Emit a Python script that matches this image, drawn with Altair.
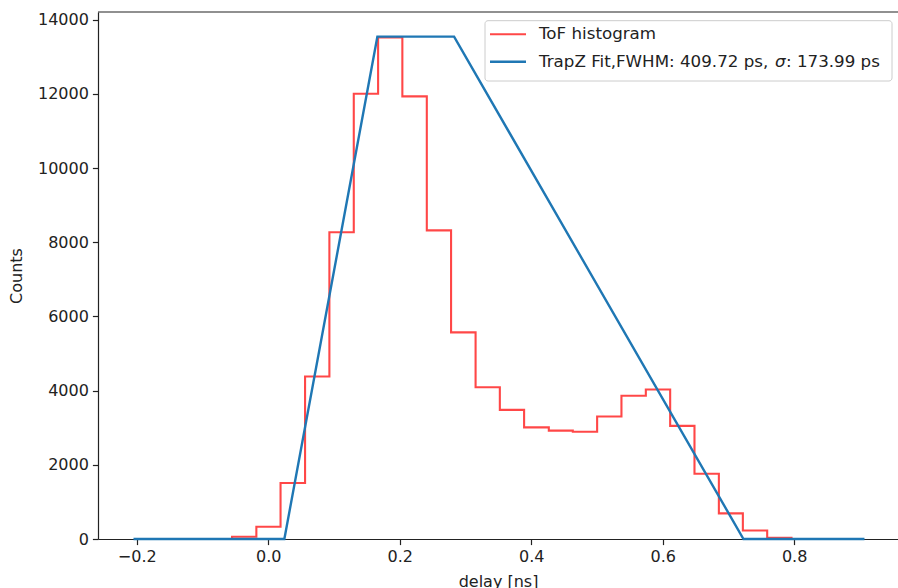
import altair as alt
import pandas as pd

# ---- data ----
bin_edges = [-0.0551, -0.0181, 0.0187, 0.0560, 0.0930, 0.1301, 0.1671, 0.2040,
             0.2412, 0.2781, 0.3154, 0.3523, 0.3892, 0.4268, 0.4633, 0.5003,
             0.5373, 0.5744, 0.6114, 0.6484, 0.6855, 0.7220, 0.7590, 0.7960]
counts = [60, 330, 1510, 4380, 8270, 12000, 13520, 11930, 8320, 5570, 4090,
          3480, 3010, 2920, 2890, 3300, 3860, 4030, 3050, 1760, 690, 230, 30]
fit_x = [-0.205, 0.0245, 0.166, 0.2827, 0.7229, 0.907]
fit_y = [0, 0, 13540, 13540, 0, 0]
x_ticks = [-0.2, 0.0, 0.2, 0.4, 0.6, 0.8]
y_ticks = [0, 2000, 4000, 6000, 8000, 10000, 12000, 14000]
legend_labels = ["ToF histogram", "TrapZ Fit,FWHM: 409.72 ps,", "σ", ": 173.99 ps"]

# ---- tables ----
step_x = [bin_edges[0]] + bin_edges[:-1] + [bin_edges[-1]]
step_y = [0] + counts + [0]
hist_df = pd.DataFrame({"x": step_x, "y": step_y, "o": range(len(step_x))})
fit_df = pd.DataFrame({"x": fit_x, "y": fit_y, "o": range(len(fit_x))})

W, H = 800, 527
FONT = "DejaVu Sans"
TXT = "#222222"
RED = "#ff0000"
BLUE = "#1f77b4"
LFS = 16.7

xs = alt.Scale(domain=[-0.259, 0.958], nice=False, zero=False)
ys = alt.Scale(domain=[0, 14205], nice=False)

x_axis = alt.Axis(values=x_ticks, format=".1f", title="delay [ns]", grid=False,
                  labelFlush=False, labelOverlap=False, tickSize=5.6, labelPadding=4,
                  titlePadding=9)
y_axis = alt.Axis(values=y_ticks, format="d", title="Counts", grid=False,
                  labelOverlap=False, tickSize=5.6, labelPadding=4, titlePadding=13)

hist = alt.Chart(hist_df).mark_line(
    interpolate="step-after", color=RED, strokeWidth=2.1, opacity=0.72
).encode(
    x=alt.X("x:Q", scale=xs, axis=x_axis),
    y=alt.Y("y:Q", scale=ys, axis=y_axis),
    order="o:Q",
)

fit = alt.Chart(fit_df).mark_line(color=BLUE, strokeWidth=2.4).encode(
    x=alt.X("x:Q", scale=xs),
    y=alt.Y("y:Q", scale=ys),
    order="o:Q",
)

one = alt.Data(values=[{}])

top_spine = alt.Chart(one).mark_rule(color=TXT, strokeWidth=1.2).encode(
    x=alt.value(0), x2=alt.value(W), y=alt.value(0)
)

leg_box = alt.Chart(one).mark_rect(
    fill="white", fillOpacity=0.8, stroke="#cccccc", strokeWidth=1, cornerRadius=3
).encode(x=alt.value(387), x2=alt.value(794), y=alt.value(8.7), y2=alt.value(69))

leg_red = alt.Chart(one).mark_rule(color=RED, strokeWidth=2.1, opacity=0.72).encode(
    x=alt.value(392), x2=alt.value(428), y=alt.value(22.3)
)
leg_blue = alt.Chart(one).mark_rule(color=BLUE, strokeWidth=2.4).encode(
    x=alt.value(392), x2=alt.value(428), y=alt.value(49.7)
)

def label(text, x, y, style="normal"):
    return alt.Chart(one).mark_text(
        text=text, align="left", baseline="middle", font=FONT, fontSize=LFS,
        fontStyle=style, color=TXT
    ).encode(x=alt.value(x), y=alt.value(y))

t1 = label(legend_labels[0], 441, 22.3)
t2 = label(legend_labels[1], 441, 49.7)
t3 = label(legend_labels[2], 677, 49.7, "italic")
t4 = label(legend_labels[3], 688, 49.7)

chart = alt.layer(
    hist, fit, top_spine, leg_box, leg_red, leg_blue, t1, t2, t3, t4
).properties(
    width=W, height=H,
    autosize=alt.AutoSizeParams(type="none"),
    padding={"left": 98, "top": 12, "right": 0, "bottom": 49},
    background="white",
).configure_view(stroke=None).configure_axis(
    labelFont=FONT, titleFont=FONT, labelFontSize=16, titleFontSize=16,
    titleFontWeight="normal", labelColor=TXT, titleColor=TXT,
    domainColor=TXT, tickColor=TXT, domainWidth=1.2, tickWidth=1.2,
)

chart.save("out.html", embed_options={"renderer": "svg", "actions": False})
